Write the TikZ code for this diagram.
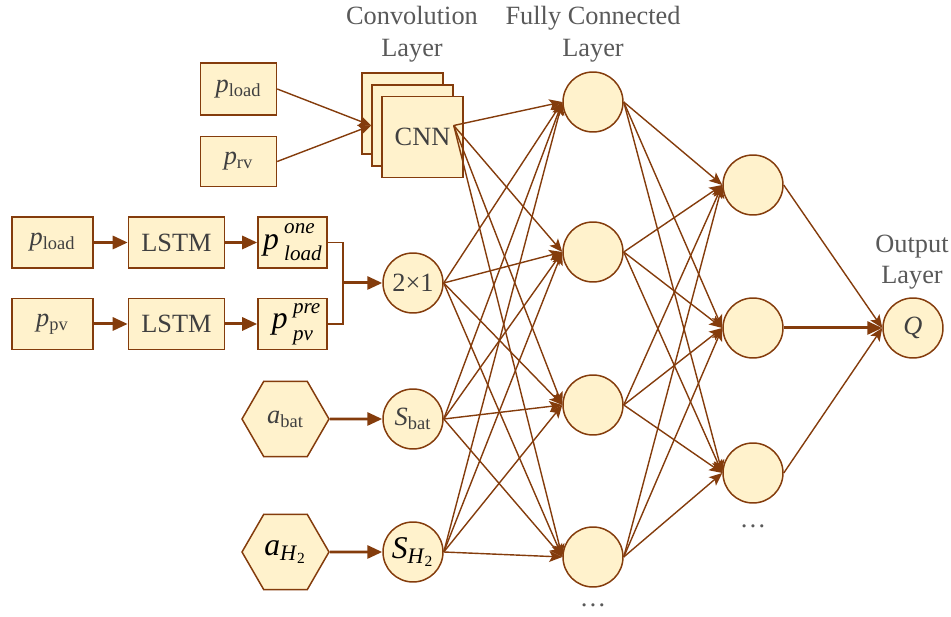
\documentclass[tikz,border=0pt]{standalone}
\usepackage{fontspec}
\setmainfont{Liberation Serif}
\usetikzlibrary{arrows.meta,positioning,shapes.geometric}
\definecolor{rust}{HTML}{843C0C}
\definecolor{cream}{HTML}{FFF2CC}
\definecolor{ink}{HTML}{404040}
\definecolor{slate}{HTML}{595959}
\newcommand{\svar}[2]{\textit{#1}\textsubscript{#2}}
\newcommand{\scr}{\fontsize{12}{12}\selectfont}
\newcommand{\fvar}[2]{\textit{p}\,\rlap{\raisebox{0.5em}{\scr\textit{#1}}}\raisebox{-0.36em}{\scr\textit{#2}}}
\tikzset{
  databox/.style={
    rectangle, draw=rust, fill=cream, line width=0.85pt,
    text=ink, inner sep=0pt,
    minimum width=#1, minimum height=1.02cm
  },
  databox/.default=1.52cm,
  cardbox/.style={
    rectangle, draw=rust, fill=cream, line width=0.85pt,
    text=ink, inner sep=0pt, minimum size=1.62cm
  },
  neuron/.style={
    circle, draw=rust, fill=cream, line width=0.85pt,
    text=ink, inner sep=0pt, minimum size=1.2cm
  },
  hexbox/.style={
    regular polygon, regular polygon sides=6, draw=rust, fill=cream,
    line width=0.85pt, text=ink, inner sep=0pt, minimum size=1.74cm
  },
  linkarrow/.style={
    -{Stealth[length=0.26cm, width=0.22cm, inset=0.06cm]}, draw=rust, line width=0.8pt
  },
  linkline/.style={draw=rust, line width=0.8pt},
  boldarrow/.style={
    -{Triangle[length=0.3cm, width=0.26cm]}, draw=rust, line width=1.7pt
  },
  layerlabel/.style={text=slate, align=center},
  bigtext/.style={text=black, font=\fontsize{18}{21}\selectfont},
}
\begin{document}
\begin{tikzpicture}[x=0.02cm, y=-0.02cm, font=\fontsize{15}{18}\selectfont]
  \useasboundingbox (0,0) rectangle (951,617);

  % Layer captions
  \node[layerlabel] (convlbl) at (412,34) {Convolution\\Layer};
  \node[layerlabel] (fclbl) at (593,34) {Fully Connected\\Layer};
  \node[layerlabel] (outlbl) at (912,262) {Output\\Layer};

  % CNN branch
  \node[databox, minimum height=1.04cm] (pload) at (238.5,89) {\svar{p}{load}};
  \node[databox, minimum height=1.0cm] (prv) at (238.5,161.5) {\svar{p}{rv}};
  \node[cardbox] (cnnback) at (402.5,113.5) {};
  \node[cardbox] (cnnmid) at (412.5,125.5) {};
  \node[cardbox] (cnn) at (422.5,137) {CNN};
  \draw[linkarrow] (pload.east) -- (cnnmid.west);
  \draw[linkarrow] (prv.east) -- (cnnmid.west);

  % LSTM branch
  \node[databox=1.62cm] (loadin) at (52.5,242.5) {\svar{p}{load}};
  \node[databox=1.92cm, right=0.68cm of loadin] (lstmA) {LSTM};
  \node[databox=1.38cm, right=0.64cm of lstmA, bigtext] (loadfc) {\fvar{one}{load}};
  \node[databox=1.62cm, below=0.58cm of loadin] (pvin) {\svar{p}{pv}};
  \node[databox=1.92cm, right=0.68cm of pvin] (lstmB) {LSTM};
  \node[databox=1.38cm, right=0.64cm of lstmB, bigtext] (pvfc) {\fvar{pre}{pv}};
  \draw[boldarrow] (loadin) -- (lstmA);
  \draw[boldarrow] (lstmA) -- (loadfc);
  \draw[boldarrow] (pvin) -- (lstmB);
  \draw[boldarrow] (lstmB) -- (pvfc);

  % Input neurons
  \node[neuron] (c21) at (413,283) {2×1};
  \node[neuron] (sbat) at (413,419) {\svar{S}{bat}};
  \node[neuron, bigtext] (sh2) at (413,552) {\textit{S}\textsubscript{\textit{H}\textsubscript{2}}};
  \node[hexbox] (abat) at (285.5,419) {\svar{a}{bat}};
  \node[hexbox, bigtext] (ah2) at (285.5,552) {\textit{a}\textsubscript{\textit{H}\textsubscript{2}}};
  \coordinate (merge) at (343,283);
  \draw[linkline] (loadfc.east) -| (merge) |- (pvfc.east);
  \draw[boldarrow] (merge) -- (c21.west);
  \draw[boldarrow] (abat.east) -- (sbat.west);
  \draw[boldarrow] (ah2.east) -- (sh2.west);

  % Fully connected layer
  \node[neuron] (fc1) at (593,102) {};
  \node[neuron] (fc2) at (593,252) {};
  \node[neuron] (fc3) at (593,405) {};
  \node[neuron] (fc4) at (593,557) {};
  \node[text=slate] (fcdots) at (593,605) {…};

  % Hidden layer
  \node[neuron] (h1) at (753,185) {};
  \node[neuron] (h2) at (753,328) {};
  \node[neuron] (h3) at (753,473) {};
  \node[text=slate] (hdots) at (753,526) {…};

  % Output
  \node[neuron] (q) at (913,328) {\textit{Q}};

  \draw[linkarrow] (cnnmid.east) -- (fc1.west);
  \draw[linkarrow] (cnnmid.east) -- (fc2.west);
  \draw[linkarrow] (cnnmid.east) -- (fc3.west);
  \draw[linkarrow] (cnnmid.east) -- (fc4.west);
  \draw[linkarrow] (c21.east) -- (fc1.west);
  \draw[linkarrow] (c21.east) -- (fc2.west);
  \draw[linkarrow] (c21.east) -- (fc3.west);
  \draw[linkarrow] (c21.east) -- (fc4.west);
  \draw[linkarrow] (sbat.east) -- (fc1.west);
  \draw[linkarrow] (sbat.east) -- (fc2.west);
  \draw[linkarrow] (sbat.east) -- (fc3.west);
  \draw[linkarrow] (sbat.east) -- (fc4.west);
  \draw[linkarrow] (sh2.east) -- (fc1.west);
  \draw[linkarrow] (sh2.east) -- (fc2.west);
  \draw[linkarrow] (sh2.east) -- (fc3.west);
  \draw[linkarrow] (sh2.east) -- (fc4.west);

  \draw[linkarrow] (fc1.east) -- (h1.west);
  \draw[linkarrow] (fc1.east) -- (h2.west);
  \draw[linkarrow] (fc1.east) -- (h3.west);
  \draw[linkarrow] (fc2.east) -- (h1.west);
  \draw[linkarrow] (fc2.east) -- (h2.west);
  \draw[linkarrow] (fc2.east) -- (h3.west);
  \draw[linkarrow] (fc3.east) -- (h1.west);
  \draw[linkarrow] (fc3.east) -- (h2.west);
  \draw[linkarrow] (fc3.east) -- (h3.west);
  \draw[linkarrow] (fc4.east) -- (h1.west);
  \draw[linkarrow] (fc4.east) -- (h2.west);
  \draw[linkarrow] (fc4.east) -- (h3.west);

  \draw[linkarrow] (h1.east) -- (q.west);
  \draw[boldarrow] (h2.east) -- (q.west);
  \draw[linkarrow] (h3.east) -- (q.west);
\end{tikzpicture}
\end{document}
